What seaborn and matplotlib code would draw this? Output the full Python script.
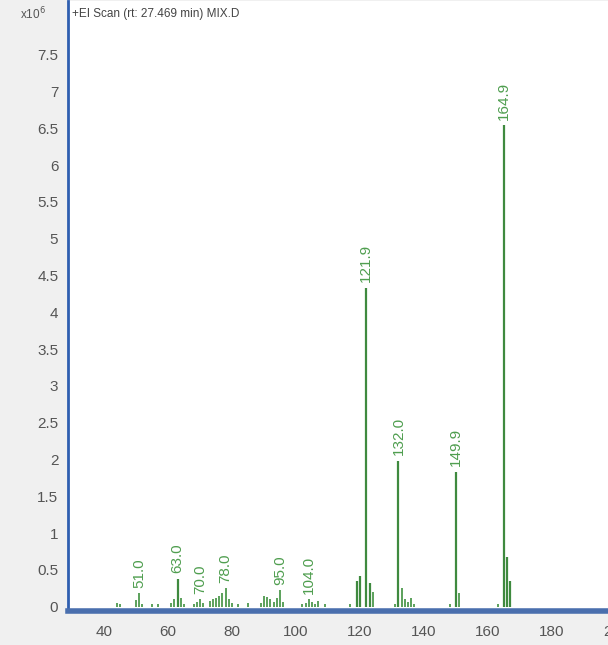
import matplotlib
matplotlib.use("Agg")
import matplotlib.pyplot as plt
import numpy as np
import pandas as pd
import seaborn as sns

# m/z values and abundances (x10^6)
mz = [44, 45, 50, 51, 52, 55, 57, 61, 62, 63, 64, 65, 68, 69, 70, 71,
      73, 74, 75, 76, 77, 78, 79, 80, 82, 85, 89, 90, 91, 92, 93, 94,
      95, 96, 102, 103, 104, 105, 106, 107, 109, 117, 119, 120, 121.9,
      123, 124, 131, 132.0, 133, 134, 135, 136, 137, 148, 149.9, 150.9,
      163, 164.9, 165.9, 166.9]
abund = [0.05, 0.03, 0.09, 0.18, 0.04, 0.03, 0.03, 0.05, 0.1, 0.38, 0.12, 0.04, 0.03, 0.06, 0.1, 0.05,
         0.08, 0.1, 0.12, 0.14, 0.18, 0.25, 0.1, 0.05, 0.04, 0.05, 0.05, 0.15, 0.13, 0.1, 0.06, 0.12,
         0.22, 0.06, 0.03, 0.05, 0.1, 0.06, 0.03, 0.08, 0.03, 0.04, 0.35, 0.42, 4.33,
         0.32, 0.2, 0.04, 1.98, 0.25, 0.1, 0.06, 0.12, 0.04, 0.04, 1.83, 0.18,
         0.04, 6.54, 0.68, 0.35]

# labelled peaks
peak_mz = [51.0, 63.0, 70.0, 78.0, 95.0, 104.0, 121.9, 132.0, 149.9, 164.9]
peak_ab = [0.18, 0.38, 0.1, 0.25, 0.22, 0.1, 4.33, 1.98, 1.83, 6.54]

yticks = [0, 0.5, 1, 1.5, 2, 2.5, 3, 3.5, 4, 4.5, 5, 5.5, 6, 6.5, 7, 7.5]
xticks = [40, 60, 80, 100, 120, 140, 160, 180, 200]

df = pd.DataFrame({"mz": mz, "abund": abund})

sns.set_style("white")
plt.rcParams["font.family"] = ["Liberation Sans", "DejaVu Sans"]

fig = plt.figure(figsize=(6.08, 6.45), dpi=100, facecolor="#f0f0f0")
ax = fig.add_axes([68 / 608, 34 / 645, 596 / 608, 610 / 645])
ax.set_facecolor("white")

light = df["abund"] < 0.3
ax.vlines(df.loc[~light, "mz"], 0, df.loc[~light, "abund"], color="#3f8a3f", lw=1.6)
ax.vlines(df.loc[light, "mz"], 0, df.loc[light, "abund"], color="#4e9a4e", lw=1.3)

for m, a in zip(peak_mz, peak_ab):
    ax.annotate(f"{m:.1f}", (m, a), xytext=(0, 4), textcoords="offset points",
                rotation=90, ha="center", va="bottom", color="#4f9e4f", fontsize=11)

ax.set_xlim(28.75, 215)
ax.set_ylim(-0.06, 8.23)
ax.set_xticks(xticks)
ax.set_yticks(yticks)
ax.set_yticklabels([f"{t:g}" for t in yticks])
ax.tick_params(axis="both", direction="out", length=6, width=1.2, color="#333333",
               labelsize=11, labelcolor="#555555")
ax.tick_params(axis="y", pad=1)
ax.tick_params(axis="x", pad=4)

for s in ["top", "right"]:
    ax.spines[s].set_visible(False)
ax.spines["left"].set_color("#2f5fb0")
ax.spines["left"].set_linewidth(2)
ax.spines["bottom"].set_color("#4a6fae")
ax.spines["bottom"].set_linewidth(4)

fig.text(20 / 608, 1 - 14 / 645, r"x10$^{6}$", fontsize=8.5, color="#555555", va="center")
fig.text(72 / 608, 1 - 14 / 645, "+EI Scan (rt: 27.469 min) MIX.D", fontsize=8.5,
         color="#444444", va="center")

fig.savefig("out.png", dpi=100, facecolor=fig.get_facecolor())
